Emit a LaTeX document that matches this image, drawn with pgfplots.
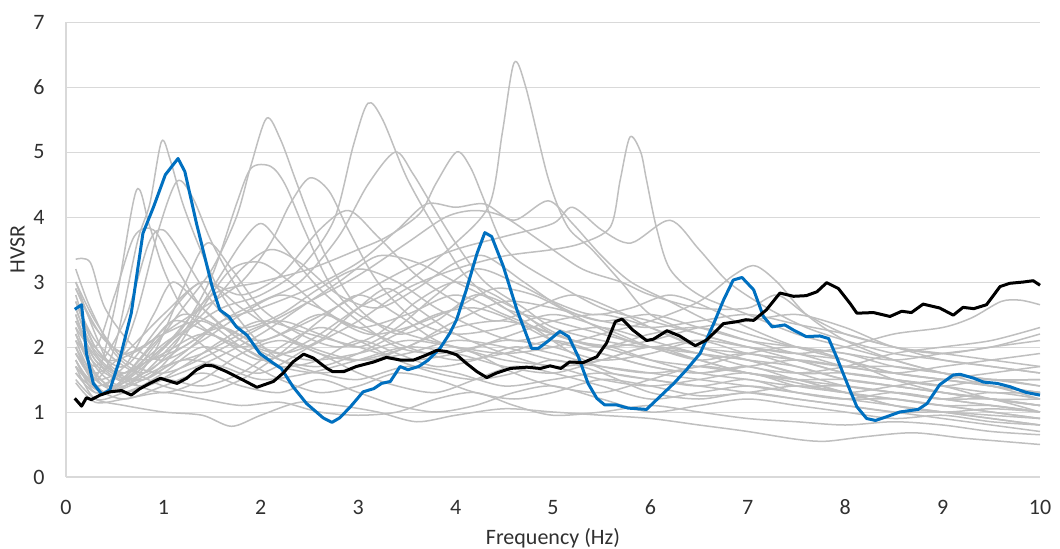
\documentclass[border=0pt]{standalone}
\usepackage{pgfplots}
\pgfplotsset{compat=1.18}
\usepackage{fontspec}
\setmainfont{Carlito}

\definecolor{spec}{HTML}{BFBFBF}
\definecolor{gridc}{HTML}{D9D9D9}
\definecolor{sitea}{HTML}{0070C0}
\definecolor{labc}{HTML}{303030}

\pgfplotsset{
  hv/.style={smooth, tension=0.5, draw=spec, line width=0.75pt},
}

\begin{document}
\begin{tikzpicture}
\useasboundingbox (-33pt,-35.5pt) rectangle (497pt,238.5pt);
\begin{axis}[
  scale only axis,
  width=487pt, height=227.5pt,
  xmin=0, xmax=10, ymin=0, ymax=7,
  xtick={0,1,...,10}, ytick={0,1,...,7},
  axis x line*=bottom, axis y line*=left,
  axis line style={draw=gridc, line width=0.6pt},
  ymajorgrids, grid style={draw=gridc, line width=0.5pt},
  major tick length=0pt,
  /pgf/number format/assume math mode=true,
  tick label style={font=\fontsize{11}{13}\selectfont, text=labc},
  xticklabel style={inner sep=0pt, anchor=north, yshift=-11.25pt},
  yticklabel style={inner sep=0pt, anchor=east, xshift=-10.5pt},
  label style={font=\fontsize{11}{13}\selectfont, text=labc},
  xlabel={Frequency (Hz)},
  ylabel={HVSR},
  xlabel style={at={(axis description cs:0.5,-0.134)}, anchor=center},
  ylabel style={at={(axis description cs:-0.0498,0.5)}, anchor=center},
  clip=false,
]
% individual station spectra
\addplot[hv] coordinates {(0.1,2.2)(0.3,1.6)(0.5,1.4)(0.8,1.9)(1.1,2.4)(1.5,2.2)(2.0,1.8)(2.5,2.1)(3.0,2.6)(3.5,3.0)(4.0,3.6)(4.35,4.2)(4.48,5.3)(4.6,6.37)(4.72,6.0)(4.95,4.6)(5.15,3.85)(5.4,3.5)(5.7,3.0)(6.0,2.5)(6.5,2.2)(7.0,2.0)(7.5,1.8)(8.0,1.6)(8.5,1.5)(9.0,1.4)(9.5,1.2)(10,1.1)};
\addplot[hv] coordinates {(0.1,1.9)(0.4,1.3)(0.8,1.6)(1.2,2.2)(1.6,2.6)(2.0,2.8)(2.4,3.2)(2.75,3.95)(2.95,5.1)(3.1,5.75)(3.25,5.5)(3.5,4.6)(3.8,3.8)(4.1,3.1)(4.5,2.6)(5.0,2.4)(5.5,2.2)(6.0,2.0)(6.5,1.8)(7.0,1.9)(7.5,1.7)(8.0,1.5)(8.5,1.4)(9.0,1.3)(9.5,1.2)(10,1.0)};
\addplot[hv] coordinates {(0.1,2.5)(0.3,1.8)(0.6,1.5)(0.9,2.0)(1.2,2.6)(1.5,3.2)(1.75,4.0)(1.9,4.8)(2.06,5.52)(2.2,5.2)(2.35,4.6)(2.5,4.0)(2.7,3.3)(3.0,2.6)(3.4,2.2)(3.8,2.4)(4.2,2.8)(4.6,2.6)(5.0,2.2)(5.5,2.0)(6.0,1.8)(6.5,1.7)(7.0,1.6)(7.5,1.5)(8.0,1.3)(8.5,1.1)(9.0,1.0)(9.5,0.9)(10,0.8)};
\addplot[hv] coordinates {(0.1,1.7)(0.4,1.3)(0.8,1.8)(1.2,2.2)(1.6,1.8)(2.0,1.6)(2.5,2.0)(3.0,2.4)(3.5,2.9)(4.0,3.2)(4.5,3.4)(5.0,3.5)(5.3,3.6)(5.59,3.85)(5.69,4.57)(5.79,5.23)(5.9,5.0)(5.96,4.57)(6.06,3.85)(6.2,3.2)(6.5,2.8)(7.0,2.5)(7.5,2.2)(8.0,2.0)(8.5,1.8)(9.0,1.6)(9.5,1.5)(10,1.4)};
\addplot[hv] coordinates {(0.1,2.0)(0.3,1.5)(0.5,2.0)(0.73,3.6)(0.86,4.2)(0.98,5.16)(1.07,4.88)(1.2,4.2)(1.38,3.5)(1.6,2.8)(1.9,2.2)(2.2,1.8)(2.6,1.6)(3.0,1.5)(3.5,1.7)(4.0,1.6)(4.5,1.4)(5.0,1.5)(5.5,1.6)(6.0,1.5)(6.5,1.4)(7.0,1.5)(7.5,1.3)(8.0,1.2)(8.5,1.3)(9.0,1.2)(9.5,1.1)(10,1.0)};
\addplot[hv] coordinates {(0.1,2.8)(0.3,2.0)(0.6,1.6)(1.0,2.0)(1.5,2.8)(2.0,3.0)(2.5,3.2)(3.0,3.5)(3.3,3.7)(3.63,4.05)(3.8,4.52)(4.01,5.0)(4.15,4.77)(4.28,4.31)(4.46,3.65)(4.63,3.34)(5.0,3.0)(5.5,2.6)(6.0,2.4)(6.5,2.2)(7.0,2.0)(7.5,1.9)(8.0,1.7)(8.5,1.6)(9.0,1.5)(9.5,1.4)(10,1.3)};
\addplot[hv] coordinates {(0.1,2.3)(0.4,1.7)(0.8,1.5)(1.2,1.9)(1.6,2.4)(2.0,2.7)(2.4,3.0)(2.8,3.7)(3.1,4.5)(3.38,5.0)(3.56,4.67)(3.75,4.2)(4.0,3.6)(4.3,3.0)(4.7,2.6)(5.0,2.3)(5.5,2.1)(6.0,2.0)(6.5,2.1)(7.0,1.9)(7.5,1.8)(8.0,1.6)(8.5,1.5)(9.0,1.4)(9.5,1.5)(10,1.4)};
\addplot[hv] coordinates {(0.1,2.2)(0.4,1.4)(0.7,2.4)(0.95,3.8)(1.14,4.55)(1.3,4.3)(1.5,3.6)(1.8,2.8)(2.1,2.3)(2.5,2.0)(3.0,1.8)(3.5,1.9)(4.0,2.1)(4.5,2.0)(5.0,1.8)(5.5,1.7)(6.0,1.6)(6.5,1.5)(7.0,1.4)(7.5,1.3)(8.0,1.2)(8.5,1.1)(9.0,1.0)(9.5,0.9)(10,0.8)};
\addplot[hv] coordinates {(0.1,1.8)(0.3,1.5)(0.5,2.6)(0.72,4.4)(0.85,3.9)(1.0,3.2)(1.2,2.6)(1.5,2.2)(1.8,2.0)(2.2,2.2)(2.6,2.5)(3.0,2.3)(3.5,2.0)(4.0,1.8)(4.5,1.9)(5.0,2.1)(5.5,1.9)(6.0,1.7)(6.5,1.6)(7.0,1.7)(7.5,1.5)(8.0,1.4)(8.5,1.3)(9.0,1.2)(9.5,1.3)(10,1.2)};
\addplot[hv] coordinates {(0.1,1.6)(0.4,1.3)(0.8,1.7)(1.2,2.3)(1.5,3.1)(1.75,4.2)(1.9,4.75)(2.1,4.78)(2.25,4.5)(2.45,3.8)(2.7,3.0)(3.0,2.5)(3.5,2.2)(4.0,2.0)(4.5,1.8)(5.0,1.7)(5.5,1.5)(6.0,1.4)(6.5,1.5)(7.0,1.6)(7.5,1.4)(8.0,1.3)(8.5,1.2)(9.0,1.1)(9.5,1.0)(10,0.9)};
\addplot[hv] coordinates {(0.1,2.6)(0.3,1.9)(0.6,1.6)(1.0,2.2)(1.4,2.6)(1.8,3.0)(2.1,3.6)(2.3,4.2)(2.5,4.6)(2.7,4.4)(2.9,3.8)(3.2,3.0)(3.6,2.4)(4.0,2.2)(4.5,2.3)(5.0,2.5)(5.5,2.3)(6.0,2.0)(6.5,1.8)(7.0,1.6)(7.5,1.5)(8.0,1.5)(8.5,1.4)(9.0,1.3)(9.5,1.2)(10,1.1)};
\addplot[hv] coordinates {(0.1,2.9)(0.4,2.1)(0.8,1.8)(1.2,2.0)(1.6,2.4)(2.0,2.6)(2.5,2.9)(3.0,3.3)(3.4,3.8)(3.7,4.2)(4.0,4.15)(4.3,4.2)(4.6,3.95)(4.95,4.25)(5.2,3.9)(5.5,3.4)(5.8,3.0)(6.2,2.7)(6.6,2.4)(7.0,2.2)(7.5,2.0)(8.0,1.9)(8.5,1.7)(9.0,1.6)(9.5,1.5)(10,1.5)};
\addplot[hv] coordinates {(0.1,2.4)(0.4,1.8)(0.8,2.0)(1.2,2.5)(1.6,2.3)(2.0,2.1)(2.5,2.4)(3.0,2.8)(3.5,3.2)(4.0,3.5)(4.5,3.7)(5.0,3.9)(5.2,4.15)(5.5,3.8)(5.8,3.6)(6.2,3.95)(6.5,3.5)(6.8,3.0)(7.2,2.6)(7.6,2.3)(8.0,2.1)(8.5,1.9)(9.0,1.8)(9.5,1.7)(10,1.6)};
\addplot[hv] coordinates {(0.1,3.0)(0.3,2.4)(0.6,1.8)(1.0,1.6)(1.5,1.9)(2.0,2.3)(2.5,2.7)(3.0,3.1)(3.5,3.6)(3.9,4.0)(4.2,4.1)(4.5,4.0)(4.9,3.6)(5.3,3.2)(5.7,3.0)(6.0,2.8)(6.5,2.6)(7.0,2.6)(7.3,2.8)(7.6,2.5)(8.0,2.2)(8.5,2.0)(9.0,1.8)(9.5,1.7)(10,1.6)};
\addplot[hv] coordinates {(0.1,1.9)(0.4,1.4)(0.8,1.6)(1.2,2.0)(1.6,2.3)(2.0,2.0)(2.5,1.8)(3.0,1.9)(3.5,2.1)(4.0,2.0)(4.5,1.9)(5.0,2.0)(5.5,2.2)(6.0,2.4)(6.5,2.7)(6.85,3.1)(7.07,3.25)(7.3,3.0)(7.6,2.5)(8.0,2.1)(8.5,1.8)(9.0,1.6)(9.5,1.4)(10,1.3)};
\addplot[hv] coordinates {(0.1,2.1)(0.4,1.6)(0.8,1.4)(1.2,1.7)(1.6,2.1)(2.0,2.4)(2.5,2.2)(3.0,2.0)(3.5,1.8)(4.0,1.9)(4.5,2.1)(5.0,2.0)(5.5,1.8)(6.0,1.9)(6.5,2.1)(7.0,2.0)(7.5,1.9)(8.0,2.0)(8.5,2.2)(9.0,2.3)(9.3,2.45)(9.6,2.7)(9.8,2.72)(10,2.65)};
\addplot[hv] coordinates {(0.1,1.7)(0.4,1.3)(0.8,1.5)(1.2,1.8)(1.6,1.7)(2.0,1.5)(2.5,1.6)(3.0,1.8)(3.5,2.0)(4.0,1.9)(4.5,1.7)(5.0,1.6)(5.5,1.8)(6.0,2.0)(6.5,1.9)(7.0,1.7)(7.5,1.6)(8.0,1.7)(8.5,1.9)(9.0,2.0)(9.5,2.1)(10,2.3)};
\addplot[hv] coordinates {(0.1,2.7)(0.3,2.0)(0.6,1.7)(1.0,2.4)(1.4,3.0)(1.8,2.6)(2.2,2.2)(2.6,1.9)(3.0,1.8)(3.5,2.0)(4.0,2.4)(4.5,2.7)(5.0,2.6)(5.5,2.4)(6.0,2.3)(6.5,2.4)(7.0,2.5)(7.5,2.35)(8.0,2.2)(8.5,2.0)(9.0,1.9)(9.5,1.8)(10,1.7)};
\addplot[hv] coordinates {(0.1,1.5)(0.3,1.2)(0.6,1.1)(1.0,1.0)(1.4,0.95)(1.7,0.78)(2.0,0.95)(2.4,1.15)(2.8,1.1)(3.2,1.0)(3.6,0.85)(4.0,0.95)(4.5,1.05)(5.0,1.0)(5.5,0.95)(6.0,0.9)(6.5,0.8)(7.0,0.7)(7.5,0.58)(7.8,0.55)(8.2,0.62)(8.7,0.68)(9.2,0.6)(9.6,0.55)(10,0.5)};
\addplot[hv] coordinates {(0.1,1.45)(0.3,1.15)(0.6,1.2)(1.0,1.3)(1.4,1.2)(1.8,1.1)(2.2,1.15)(2.6,1.0)(3.0,0.95)(3.4,1.0)(3.8,1.2)(4.2,1.3)(4.6,1.1)(5.0,0.95)(5.5,1.0)(6.0,1.1)(6.5,1.0)(7.0,0.9)(7.5,0.85)(8.0,0.8)(8.5,0.85)(9.0,0.8)(9.5,0.7)(10,0.65)};
\addplot[hv] coordinates {(0.1,2.0)(0.3,1.4)(0.6,1.2)(1.0,1.4)(1.4,1.6)(1.8,1.4)(2.2,1.3)(2.6,1.5)(3.0,1.3)(3.4,1.1)(3.8,1.0)(4.2,1.1)(4.6,1.3)(5.0,1.4)(5.5,1.2)(6.0,1.0)(6.5,1.1)(7.0,1.2)(7.5,1.1)(8.0,1.0)(8.5,0.9)(9.0,0.95)(9.5,0.85)(10,0.8)};
\addplot[hv] coordinates {(0.1,2.3)(0.3,1.6)(0.6,1.3)(1.0,1.6)(1.4,2.0)(1.8,1.8)(2.2,1.5)(2.6,1.3)(3.0,1.4)(3.4,1.6)(3.8,1.5)(4.2,1.3)(4.6,1.2)(5.0,1.3)(5.5,1.5)(6.0,1.4)(6.5,1.25)(7.0,1.3)(7.5,1.4)(8.0,1.3)(8.5,1.1)(9.0,1.0)(9.5,1.05)(10,1.0)};
\addplot[hv] coordinates {(0.1,3.35)(0.25,3.3)(0.4,2.6)(0.7,2.0)(1.0,1.8)(1.4,2.1)(1.8,2.5)(2.2,2.8)(2.6,2.6)(3.0,2.3)(3.5,2.5)(4.0,2.8)(4.5,2.5)(5.0,2.2)(5.5,2.0)(6.0,2.2)(6.5,2.3)(7.0,2.1)(7.5,1.9)(8.0,1.8)(8.5,1.6)(9.0,1.5)(9.5,1.4)(10,1.3)};
\addplot[hv] coordinates {(0.1,3.0)(0.3,2.2)(0.5,1.6)(0.8,1.5)(1.1,1.9)(1.4,2.6)(1.7,3.2)(2.0,3.3)(2.3,3.0)(2.7,2.5)(3.1,2.2)(3.5,2.3)(4.0,2.6)(4.4,2.9)(4.8,2.8)(5.2,2.5)(5.6,2.2)(6.0,2.0)(6.5,1.9)(7.0,1.8)(7.5,1.7)(8.0,1.5)(8.5,1.4)(9.0,1.3)(9.5,1.2)(10,1.2)};
\addplot[hv] coordinates {(0.1,2.5)(0.3,1.7)(0.6,1.4)(0.9,1.9)(1.2,2.9)(1.45,3.6)(1.7,3.2)(2.0,2.6)(2.4,2.2)(2.8,2.0)(3.2,2.2)(3.6,2.7)(4.0,3.0)(4.4,2.8)(4.8,2.4)(5.2,2.1)(5.6,2.0)(6.0,1.8)(6.5,1.6)(7.0,1.5)(7.5,1.4)(8.0,1.4)(8.5,1.3)(9.0,1.2)(9.5,1.1)(10,1.0)};
\addplot[hv] coordinates {(0.1,1.9)(0.3,1.5)(0.6,1.7)(0.9,2.5)(1.1,3.0)(1.4,2.6)(1.8,2.1)(2.2,1.9)(2.6,2.1)(3.0,2.6)(3.3,2.9)(3.6,2.6)(4.0,2.2)(4.5,1.9)(5.0,1.7)(5.5,1.8)(6.0,2.0)(6.5,1.8)(7.0,1.6)(7.5,1.5)(8.0,1.3)(8.5,1.2)(9.0,1.1)(9.5,1.1)(10,1.0)};
\addplot[hv] coordinates {(0.1,2.2)(0.3,1.7)(0.6,2.4)(0.85,3.6)(1.0,3.8)(1.2,3.4)(1.5,2.7)(1.8,2.3)(2.2,2.5)(2.6,2.9)(3.0,3.2)(3.4,3.0)(3.8,2.6)(4.2,2.3)(4.6,2.1)(5.0,2.2)(5.5,2.3)(6.0,2.1)(6.5,1.9)(7.0,1.8)(7.5,1.6)(8.0,1.6)(8.5,1.5)(9.0,1.4)(9.5,1.3)(10,1.3)};
\addplot[hv] coordinates {(0.1,2.6)(0.3,2.0)(0.5,2.8)(0.7,3.7)(0.9,3.8)(1.1,3.3)(1.4,2.6)(1.8,2.1)(2.2,1.8)(2.6,1.7)(3.0,1.9)(3.4,2.2)(3.8,2.5)(4.2,2.6)(4.6,2.4)(5.0,2.1)(5.5,1.9)(6.0,1.7)(6.5,1.6)(7.0,1.7)(7.5,1.8)(8.0,1.7)(8.5,1.6)(9.0,1.7)(9.5,1.8)(10,1.9)};
\addplot[hv] coordinates {(0.1,1.8)(0.3,1.3)(0.6,1.5)(1.0,2.0)(1.4,2.5)(1.8,3.2)(2.1,3.5)(2.4,3.3)(2.8,2.8)(3.2,2.6)(3.6,2.9)(4.0,3.3)(4.3,3.4)(4.7,3.0)(5.1,2.6)(5.5,2.4)(6.0,2.5)(6.5,2.3)(7.0,2.1)(7.5,2.0)(8.0,1.9)(8.5,1.8)(9.0,1.9)(9.5,2.0)(10,2.2)};
\addplot[hv] coordinates {(0.1,2.0)(0.3,1.6)(0.6,1.9)(1.0,2.5)(1.4,3.0)(1.8,2.8)(2.2,3.1)(2.6,3.8)(2.9,4.1)(3.2,3.7)(3.6,3.1)(4.0,2.7)(4.4,2.4)(4.8,2.6)(5.2,2.8)(5.6,2.6)(6.0,2.3)(6.5,2.0)(7.0,1.9)(7.5,1.8)(8.0,1.7)(8.5,1.7)(9.0,1.6)(9.5,1.5)(10,1.5)};
\addplot[hv] coordinates {(0.1,1.6)(0.3,1.3)(0.6,1.4)(1.0,1.7)(1.4,1.9)(1.8,2.2)(2.2,2.4)(2.6,2.2)(3.0,2.0)(3.4,2.3)(3.8,2.8)(4.2,3.2)(4.6,3.0)(5.0,2.7)(5.4,2.5)(5.8,2.6)(6.2,2.8)(6.6,2.6)(7.0,2.3)(7.5,2.0)(8.0,1.8)(8.5,1.6)(9.0,1.5)(9.5,1.4)(10,1.2)};
\addplot[hv] coordinates {(0.1,2.9)(0.3,2.3)(0.6,1.9)(1.0,2.2)(1.4,2.4)(1.8,2.0)(2.2,1.7)(2.6,1.8)(3.0,2.1)(3.4,1.9)(3.8,1.7)(4.2,1.8)(4.6,2.0)(5.0,1.9)(5.5,1.7)(6.0,1.6)(6.5,1.7)(7.0,1.9)(7.5,2.0)(8.0,1.8)(8.5,1.5)(9.0,1.3)(9.5,1.2)(10,1.1)};
\addplot[hv] coordinates {(0.1,1.7)(0.3,1.2)(0.6,1.3)(1.0,1.5)(1.4,1.4)(1.8,1.6)(2.2,2.0)(2.6,2.3)(3.0,2.1)(3.4,1.8)(3.8,1.6)(4.2,1.5)(4.6,1.6)(5.0,1.8)(5.5,1.6)(6.0,1.3)(6.5,1.2)(7.0,1.3)(7.5,1.2)(8.0,1.1)(8.5,1.0)(9.0,0.9)(9.5,0.8)(10,0.7)};
\addplot[hv] coordinates {(0.1,2.4)(0.3,1.8)(0.6,1.5)(1.0,1.3)(1.4,1.5)(1.8,1.9)(2.2,2.1)(2.6,1.9)(3.0,1.6)(3.4,1.4)(3.8,1.3)(4.2,1.5)(4.6,1.7)(5.0,1.6)(5.5,1.4)(6.0,1.2)(6.5,1.3)(7.0,1.4)(7.5,1.3)(8.0,1.2)(8.5,1.2)(9.0,1.1)(9.5,1.0)(10,0.9)};
\addplot[hv] coordinates {(0.1,2.1)(0.3,1.5)(0.6,1.3)(1.0,1.5)(1.5,1.8)(2.0,2.2)(2.4,2.6)(2.8,3.0)(3.2,3.4)(3.6,3.3)(4.0,3.0)(4.4,2.7)(4.8,2.3)(5.2,1.9)(5.6,1.6)(6.0,1.5)(6.5,1.4)(7.0,1.3)(7.5,1.2)(8.0,1.1)(8.5,1.0)(9.0,1.0)(9.5,0.95)(10,0.9)};
\addplot[hv] coordinates {(0.1,2.7)(0.3,2.1)(0.6,1.7)(1.0,1.4)(1.4,1.3)(1.8,1.5)(2.2,1.9)(2.6,2.4)(3.0,2.8)(3.4,2.5)(3.8,2.1)(4.2,1.9)(4.6,1.6)(5.0,1.4)(5.5,1.3)(6.0,1.5)(6.5,1.7)(7.0,1.6)(7.5,1.45)(8.0,1.3)(8.5,1.4)(9.0,1.5)(9.5,1.6)(10,1.7)};
\addplot[hv] coordinates {(0.1,1.8)(0.3,1.4)(0.6,1.6)(1.0,1.9)(1.4,2.2)(1.8,2.0)(2.2,1.7)(2.6,1.6)(3.0,1.7)(3.5,2.0)(4.0,2.3)(4.5,2.4)(5.0,2.2)(5.5,2.0)(6.0,2.1)(6.5,2.3)(7.0,2.4)(7.5,2.5)(8.0,2.3)(8.5,2.0)(9.0,1.9)(9.5,2.0)(10,2.1)};
\addplot[hv] coordinates {(0.1,3.2)(0.25,2.6)(0.5,1.9)(0.8,1.6)(1.1,2.0)(1.5,2.9)(1.8,3.6)(2.0,3.9)(2.2,3.6)(2.6,2.9)(3.0,2.4)(3.4,2.0)(3.8,1.9)(4.2,2.0)(4.6,2.2)(5.0,2.4)(5.5,2.5)(6.0,2.3)(6.5,2.0)(7.0,1.8)(7.5,1.6)(8.0,1.4)(8.5,1.3)(9.0,1.2)(9.5,1.2)(10,1.1)};
% highlighted station
\addplot[draw=sitea, line width=1.5pt, line join=round] coordinates {(0.09,2.58)(0.16,2.65)(0.21,1.9)(0.28,1.44)(0.37,1.27)(0.45,1.34)(0.55,1.8)(0.67,2.52)(0.79,3.75)(0.9,4.16)(1.02,4.65)(1.15,4.9)(1.22,4.70)(1.34,3.9)(1.5,2.93)(1.58,2.57)(1.67,2.47)(1.75,2.31)(1.86,2.18)(1.99,1.9)(2.13,1.75)(2.21,1.67)(2.33,1.39)(2.47,1.13)(2.64,0.91)(2.73,0.84)(2.81,0.91)(2.92,1.08)(3.05,1.31)(3.16,1.36)(3.24,1.44)(3.33,1.47)(3.43,1.7)(3.51,1.65)(3.62,1.7)(3.72,1.8)(3.84,1.98)(3.94,2.21)(4.01,2.42)(4.11,2.88)(4.22,3.44)(4.30,3.76)(4.37,3.70)(4.49,3.24)(4.63,2.57)(4.78,1.98)(4.85,1.98)(4.94,2.08)(5.07,2.24)(5.16,2.16)(5.26,1.85)(5.36,1.44)(5.45,1.21)(5.53,1.11)(5.65,1.11)(5.77,1.06)(5.87,1.05)(5.96,1.04)(6.10,1.24)(6.24,1.44)(6.37,1.65)(6.51,1.9)(6.65,2.36)(6.75,2.72)(6.85,3.03)(6.94,3.07)(7.06,2.88)(7.16,2.47)(7.25,2.31)(7.38,2.34)(7.47,2.26)(7.60,2.16)(7.74,2.17)(7.83,2.13)(7.91,1.85)(8.02,1.44)(8.12,1.08)(8.22,0.90)(8.31,0.87)(8.43,0.93)(8.56,1.0)(8.75,1.04)(8.84,1.13)(8.97,1.42)(9.11,1.57)(9.18,1.58)(9.32,1.52)(9.42,1.46)(9.56,1.44)(9.69,1.39)(9.86,1.30)(10.0,1.26)};
% reference curve
\addplot[draw=black, line width=1.5pt, line join=round] coordinates {(0.09,1.21)(0.16,1.09)(0.21,1.22)(0.26,1.19)(0.35,1.26)(0.45,1.31)(0.57,1.33)(0.67,1.26)(0.76,1.36)(0.86,1.44)(0.97,1.52)(1.03,1.49)(1.14,1.44)(1.24,1.52)(1.34,1.65)(1.43,1.72)(1.51,1.71)(1.65,1.62)(1.82,1.49)(1.96,1.38)(2.13,1.47)(2.23,1.6)(2.33,1.77)(2.44,1.89)(2.54,1.83)(2.68,1.67)(2.74,1.62)(2.85,1.62)(2.98,1.70)(3.16,1.77)(3.29,1.84)(3.43,1.8)(3.57,1.8)(3.69,1.87)(3.81,1.95)(3.91,1.93)(4.01,1.88)(4.11,1.75)(4.22,1.62)(4.32,1.53)(4.42,1.6)(4.56,1.67)(4.73,1.69)(4.87,1.67)(4.97,1.71)(5.08,1.67)(5.17,1.77)(5.31,1.76)(5.45,1.85)(5.55,2.06)(5.64,2.39)(5.71,2.43)(5.82,2.26)(5.96,2.10)(6.03,2.12)(6.17,2.25)(6.30,2.17)(6.46,2.02)(6.58,2.11)(6.75,2.36)(6.89,2.39)(6.98,2.42)(7.06,2.41)(7.19,2.57)(7.33,2.83)(7.47,2.78)(7.60,2.79)(7.71,2.85)(7.81,2.99)(7.93,2.90)(8.05,2.67)(8.12,2.52)(8.29,2.53)(8.46,2.47)(8.58,2.55)(8.68,2.53)(8.80,2.66)(8.97,2.60)(9.11,2.49)(9.21,2.61)(9.32,2.59)(9.45,2.65)(9.59,2.93)(9.69,2.98)(9.83,3.0)(9.93,3.02)(10.0,2.95)};
\end{axis}
\end{tikzpicture}
\end{document}
